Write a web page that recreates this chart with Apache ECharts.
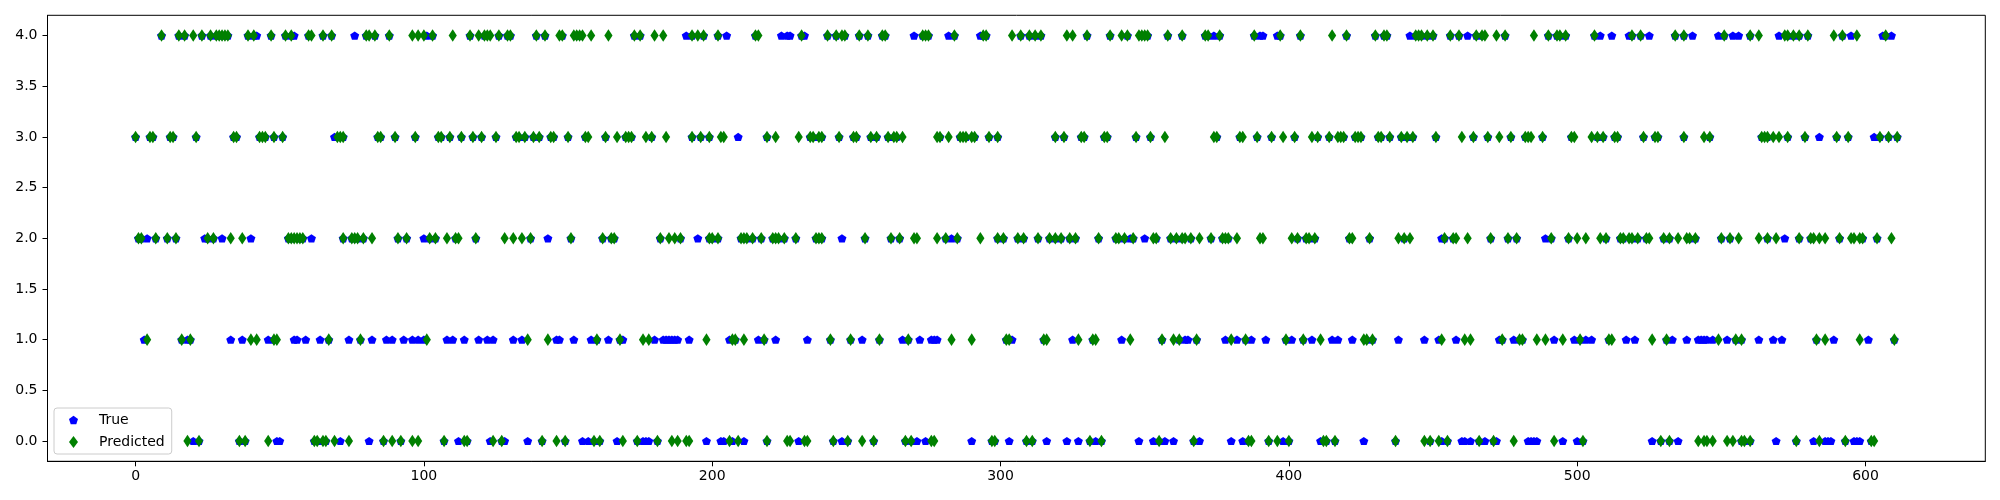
<!DOCTYPE html>
<html>
<head>
<meta charset="utf-8">
<script src="https://cdn.jsdelivr.net/npm/echarts@6/dist/echarts.min.js"></script>
<style>html,body{margin:0;padding:0;background:#fff}#chart{width:2000px;height:500px}</style>
</head>
<body>
<div id="chart"></div>
<script>
// Sample indices (x) where the Predicted label equals each class (y = 0..4)
const predClass0 = [18,22,36,38,46,62,63,65,66,69,74,86,89,92,96,98,107,114,115,124,127,141,146,149,159,161,169,174,181,186,188,191,192,206,209,219,226,227,232,233,242,247,252,256,267,269,276,277,297,298,309,311,331,335,355,367,386,387,393,396,400,412,413,416,437,447,449,452,455,466,471,478,492,502,529,532,542,544,545,547,552,554,557,558,560,576,584,593,602,603];
const predClass1 = [4,16,19,40,42,48,49,67,78,101,136,143,160,168,176,178,198,207,208,211,218,241,248,258,268,283,290,302,303,315,316,327,332,333,345,356,360,362,368,380,385,399,405,411,426,427,429,453,461,463,474,480,481,486,489,495,501,511,512,526,531,549,555,557,583,586,598,610];
const predClass2 = [1,2,7,11,14,25,27,33,37,53,54,55,56,57,58,72,75,76,77,79,82,91,94,102,104,108,111,112,118,128,131,134,137,151,162,165,166,182,185,187,189,199,200,202,210,211,212,214,217,221,222,223,225,229,236,237,238,253,262,265,270,271,278,281,285,293,299,301,306,308,313,317,319,321,324,326,334,340,341,343,346,353,354,359,361,363,364,366,369,373,377,378,379,382,390,391,401,403,406,407,409,421,422,428,438,440,442,454,457,458,462,470,476,479,491,497,500,503,508,510,515,516,518,519,521,524,525,530,532,535,538,539,541,550,553,556,563,566,569,577,581,582,584,586,591,595,596,598,599,604,609];
const predClass3 = [0,5,6,12,13,21,34,35,43,44,45,48,51,70,71,72,84,85,90,97,105,106,109,113,117,120,125,132,133,135,138,140,144,145,150,156,157,163,167,170,171,172,177,179,184,193,196,199,203,204,219,222,230,234,235,237,238,244,249,250,255,257,261,263,264,266,278,279,282,286,287,288,290,291,296,299,319,322,328,329,336,337,347,352,357,374,375,383,384,389,394,398,402,408,410,414,417,418,419,423,424,425,431,432,435,439,441,443,451,460,464,469,473,477,482,483,484,488,498,499,505,507,509,513,514,523,527,528,537,544,546,564,565,566,568,570,573,579,590,594,605,608,611];
const predClass4 = [9,15,17,20,23,26,28,29,30,31,32,39,41,47,52,54,60,61,65,68,80,81,83,88,96,98,100,103,110,116,119,121,122,123,126,129,130,139,142,147,148,152,153,154,155,158,164,173,175,180,183,193,195,197,202,215,216,231,240,243,245,246,251,254,259,260,273,274,275,284,294,295,304,307,310,312,314,323,325,330,338,342,344,348,349,350,351,358,363,371,372,376,388,397,404,415,420,430,433,434,444,445,446,448,450,456,459,465,467,468,472,475,485,490,493,494,496,506,519,522,534,537,551,560,563,572,573,575,577,580,589,592,597,607];

// Sample indices where the True label is each class but differs from the prediction
// (everywhere else the True marker sits under the Predicted marker)
const trueDiffClass0 = [20,49,50,71,81,112,123,128,136,155,157,167,176,177,178,198,203,204,207,211,230,245,271,274,290,303,316,323,327,333,348,353,357,360,369,380,384,398,411,426,453,460,461,463,468,472,483,484,485,486,495,500,526,535,569,582,586,587,588,596,597,598];
const trueDiffClass1 = [3,18,33,37,46,55,56,59,64,74,82,87,89,93,96,98,100,108,110,114,119,122,124,131,134,146,147,152,158,164,169,180,183,184,185,186,187,188,192,206,216,222,233,252,266,272,276,277,278,304,325,342,364,365,378,382,387,392,401,408,415,417,422,438,447,452,458,473,478,492,499,503,505,517,520,533,538,542,543,544,545,547,552,563,568,571,589,601];
const trueDiffClass2 = [4,24,30,40,61,100,143,195,245,283,345,350,453,489,572];
const trueDiffClass3 = [69,209,584,603];
const trueDiffClass4 = [42,55,76,101,191,205,224,226,227,232,270,282,293,374,390,391,396,442,462,508,512,518,525,540,549,554,556,570,595,606,609];

const xTicks = [0,100,200,300,400,500,600];
const yTicks = [0,0.5,1,1.5,2,2.5,3,3.5,4];
const seriesNames = ['True','Predicted'];

const predRows = [predClass0,predClass1,predClass2,predClass3,predClass4];
const trueDiffRows = [trueDiffClass0,trueDiffClass1,trueDiffClass2,trueDiffClass3,trueDiffClass4];

const diffSet = new Set();
trueDiffRows.forEach(a => a.forEach(i => diffSet.add(i)));
const predData = [];
predRows.forEach((arr, k) => arr.forEach(i => predData.push([i, k])));
const trueData = [];
predRows.forEach((arr, k) => arr.forEach(i => { if (!diffSet.has(i)) trueData.push([i, k]); }));
trueDiffRows.forEach((arr, k) => arr.forEach(i => trueData.push([i, k])));

const pentagon = 'path://M0,-1L0.9511,-0.309L0.5878,0.809L-0.5878,0.809L-0.9511,-0.309Z';
const FONT = 'DejaVu Sans';

const chart = echarts.init(document.getElementById('chart'), null, {renderer: 'canvas'});
chart.setOption({
  animation: false,
  backgroundColor: '#ffffff',
  grid: {left: 47.5, right: 14.7, top: 15.3, bottom: 38.7, show: true, borderColor: '#000', borderWidth: 1, containLabel: false, outerBoundsMode: 'none'},
  xAxis: {
    type: 'value', min: -30.55, max: 641.55,
    axisLine: {show: true, onZero: false, lineStyle: {color: '#000', width: 1}},
    axisTick: {show: true, length: 5, lineStyle: {color: '#000'}, customValues: xTicks},
    axisLabel: {show: true, customValues: xTicks, margin: 8, color: '#000', fontSize: 14, fontFamily: FONT, formatter: v => String(v)},
    splitLine: {show: false}
  },
  yAxis: {
    type: 'value', min: -0.2, max: 4.2,
    axisLine: {show: true, onZero: false, lineStyle: {color: '#000', width: 1}},
    axisTick: {show: true, length: 5, lineStyle: {color: '#000'}, customValues: yTicks},
    axisLabel: {show: true, customValues: yTicks, margin: 10, color: '#000', fontSize: 14, fontFamily: FONT, formatter: v => v.toFixed(1)},
    splitLine: {show: false}
  },
  legend: {
    orient: 'vertical', left: 54, top: 408,
    itemWidth: 9, itemHeight: 12, itemGap: 8,
    padding: [5, 7, 5, 15],
    backgroundColor: 'rgba(255,255,255,0.8)', borderColor: '#cccccc', borderWidth: 1, borderRadius: 3,
    textStyle: {fontSize: 14, color: '#000', fontFamily: FONT, padding: [0, 0, 0, 16]},
    data: [{name: seriesNames[0], icon: pentagon}, {name: seriesNames[1], icon: 'diamond'}]
  },
  series: [
    {name: seriesNames[0], type: 'scatter', data: trueData, symbol: pentagon, symbolKeepAspect: true, symbolSize: [9, 8.6],
     itemStyle: {color: '#0000ff', opacity: 1}, emphasis: {disabled: true}},
    {name: seriesNames[1], type: 'scatter', data: predData, symbol: 'diamond', symbolSize: [8.2, 12.6],
     itemStyle: {color: '#008000', opacity: 1}, emphasis: {disabled: true}}
  ]
});
</script>
</body>
</html>
